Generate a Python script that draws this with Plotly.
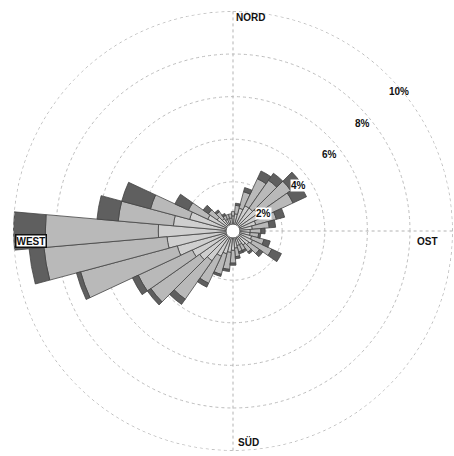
import math
import plotly.graph_objects as go

# Wind directions (degrees, clockwise from north), 10-degree sectors
directions = list(range(0, 360, 10))

# Frequency (%) per sector, stacked by wind speed class
speed_low = [0.4, 0.5, 0.8, 1.0, 1.0, 1.1, 1.0, 0.8, 0.6, 0.5, 0.5, 0.6,
             0.7, 0.6, 0.5, 0.4, 0.4, 0.5, 0.6, 0.7, 0.8, 1.0, 1.4, 1.6,
             1.8, 2.4, 2.8, 3.2, 2.5, 1.8, 1.0, 0.6, 0.4, 0.3, 0.3, 0.3]
speed_mid = [0.2, 0.4, 0.8, 1.4, 1.6, 1.9, 1.8, 1.0, 0.8, 0.5, 0.4, 0.6,
             1.0, 0.6, 0.4, 0.3, 0.3, 0.4, 0.6, 0.8, 1.0, 1.4, 2.2, 2.8,
             2.8, 4.7, 5.8, 5.3, 2.6, 1.9, 1.0, 0.5, 0.4, 0.2, 0.2, 0.2]
speed_high = [0.0, 0.1, 0.2, 0.4, 0.4, 0.6, 0.7, 0.4, 0.3, 0.2, 0.1, 0.3,
              0.5, 0.2, 0.1, 0.1, 0.1, 0.1, 0.1, 0.1, 0.1, 0.2, 0.3, 0.2,
              0.3, 0.2, 0.7, 1.5, 1.0, 1.4, 0.7, 0.3, 0.1, 0.1, 0.0, 0.0]

ring_ticks = [2, 4, 6, 8, 10]
ring_labels = ["2%", "4%", "6%", "8%", "10%"]
compass_labels = ["NORD", "OST", "SÜD", "WEST"]

# Page and polar geometry
W, H = 454, 456
M_L, M_R, M_T, M_B = 13, 1, 11, 5
R_MAX = 10.02
GRID = "#bdbdbd"


def to_paper(bearing, r):
    """Convert (bearing, radius in %) to paper coordinates of the polar area."""
    rad = math.radians(bearing)
    frac = r / R_MAX * 0.5
    return 0.5 + frac * math.sin(rad), 0.5 + frac * math.cos(rad)


fig = go.Figure()
series = [(speed_low, "#cfcfcf"), (speed_mid, "#b9b9b9"), (speed_high, "#5f5f5f")]
for vals, col in series:
    fig.add_trace(go.Barpolar(
        r=vals, theta=directions, width=[10] * len(directions),
        marker=dict(color=col, line=dict(color="#444444", width=0.8)),
        showlegend=False, hoverinfo="skip",
    ))

# Outermost ring (10 %) drawn as a dotted circle
ring_theta = list(range(0, 361, 2))
fig.add_trace(go.Scatterpolar(
    r=[ring_ticks[-1]] * len(ring_theta), theta=ring_theta, mode="lines",
    line=dict(color=GRID, width=1, dash="dot"),
    showlegend=False, hoverinfo="skip",
))

annotations = []
# Ring value labels along the north-east diagonal
ring_pos = [(61, 1.6), (55, 3.65), (51.5, 5.63), (50.3, 7.68), (49.8, 9.87)]
for lab, (b, r) in zip(ring_labels, ring_pos):
    x, y = to_paper(b, r)
    boxed = r < 5
    annotations.append(dict(
        x=x, y=y, xref="paper", yref="paper", xanchor="center",
        yanchor="middle", text="<b>%s</b>" % lab, showarrow=False,
        font=dict(family="Liberation Sans", size=10, color="#111"),
        bgcolor="white" if boxed else None, borderpad=0,
    ))

# Compass labels
compass_pos = [(4.8, 9.74), (93.2, 8.88), (175.9, 9.62), (267.2, 9.19)]
for lab, (b, r) in zip(compass_labels, compass_pos):
    x, y = to_paper(b, r)
    west = lab == "WEST"
    annotations.append(dict(
        x=x, y=y, xref="paper", yref="paper", xanchor="center",
        yanchor="middle", text="<b>%s</b>" % lab, showarrow=False,
        font=dict(family="Liberation Sans", size=10, color="#111"),
        bgcolor="white" if west else None,
        bordercolor="#111" if west else None,
        borderwidth=1.5 if west else 0, borderpad=0,
    ))

fig.update_layout(
    width=W, height=H,
    margin=dict(l=M_L, r=M_R, t=M_T, b=M_B),
    paper_bgcolor="white",
    plot_bgcolor="white",
    polar=dict(
        bgcolor="white",
        hole=0.03,
        barmode="stack",
        bargap=0,
        radialaxis=dict(
            range=[0, R_MAX], tickvals=ring_ticks, showticklabels=False,
            ticks="", showline=False, gridcolor=GRID, griddash="dot",
            gridwidth=1,
        ),
        angularaxis=dict(
            direction="clockwise", rotation=90, tickvals=[0, 90, 180, 270],
            showticklabels=False, ticks="", showline=False,
            gridcolor="#b3b3b3", griddash="dot", gridwidth=1,
        ),
    ),
    annotations=annotations,
)

fig.write_html("out.html")
